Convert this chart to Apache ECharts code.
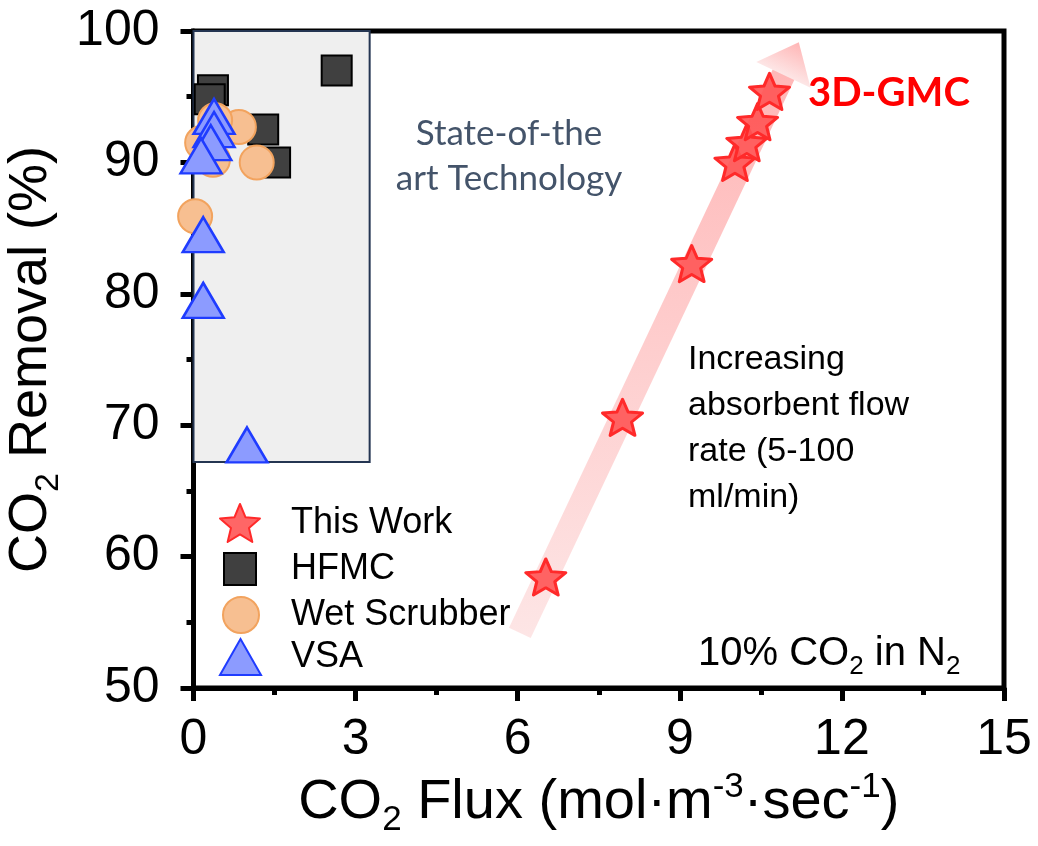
<!DOCTYPE html>
<html>
<head>
<meta charset="utf-8">
<script src="https://cdn.jsdelivr.net/npm/echarts@6/dist/echarts.min.js"></script>
<style>html,body{margin:0;padding:0;background:#fff}#c{width:1038px;height:846px}</style>
</head>
<body>
<div id="c"></div>
<script>
// ---- data ----
const thisWorkX = [6.52, 7.94, 9.22, 10.02, 10.24, 10.44, 10.66];
const thisWorkY = [58.45, 70.6, 82.3, 90.0, 91.5, 93.1, 95.4];
const hfmcX = [2.65, 0.36, 0.30, 1.29, 1.51];
const hfmcY = [97.0, 95.5, 94.8, 92.5, 90.0];
const wetX = [0.84, 1.17, 0.36, 0.40, 0.16, 0.03];
const wetY = [92.7, 90.0, 90.2, 93.2, 91.5, 85.9];
const vsaX = [0.38, 0.38, 0.32, 0.14, 0.18, 0.18, 0.99];
const vsaY = [93.5, 92.5, 91.5, 90.5, 84.5, 79.5, 68.5];
const seriesNames = ['This Work', 'HFMC', 'Wet Scrubber', 'VSA'];
const xTicks = [0, 3, 6, 9, 12, 15];
const yTicks = [50, 60, 70, 80, 90, 100];
const stateArtBox = [[0, 100], [3.26, 67.2]];
const trendArrow = [[6.04, 54.2], [11.06, 97.9]];

const pairs = (xs, ys) => xs.map((x, i) => [x, ys[i]]);

function starPath() {
  const pts = [];
  for (let i = 0; i < 10; i++) {
    const r = i % 2 ? 0.45 : 1;
    const a = -Math.PI / 2 + i * Math.PI / 5;
    pts.push(((Math.cos(a) * r) * 50 + 50).toFixed(2) + ',' + ((Math.sin(a) * r) * 50 + 50).toFixed(2));
  }
  return 'path://M' + pts.join('L') + 'Z';
}
const STAR = starPath();
const FONT = 'Liberation Sans, Arial, sans-serif';
const CAL = 'Lato, sans-serif';

const chart = echarts.init(document.getElementById('c'), null, {renderer: 'canvas'});

const legendText = pad => ({fontSize: 36, fontFamily: FONT, color: '#000', lineHeight: 40, padding: [0, 0, 0, pad]});
const legendCommon = {orient: 'vertical', padding: 0, itemGap: 0, selectedMode: false};

const tickLine = {color: '#000', width: 5};

const option = {
  animation: false,
  backgroundColor: '#fff',
  grid: {left: 193.5, right: 34, top: 31, bottom: 158, containLabel: false, outerBoundsMode: 'none',
    show: true, borderColor: '#000', borderWidth: 5, backgroundColor: 'transparent'},
  legend: [
    Object.assign({}, legendCommon, {data: [seriesNames[0]], left: 219, top: 503, itemWidth: 40, itemHeight: 38, textStyle: legendText(26)}),
    Object.assign({}, legendCommon, {data: [seriesNames[1]], left: 223, top: 549, itemWidth: 32, itemHeight: 32, textStyle: legendText(30)}),
    Object.assign({}, legendCommon, {data: [seriesNames[2]], left: 222, top: 595, itemWidth: 36, itemHeight: 36, textStyle: legendText(27)}),
    Object.assign({}, legendCommon, {data: [seriesNames[3]], left: 219, top: 637, itemWidth: 41, itemHeight: 36, textStyle: legendText(25)})
  ],
  xAxis: {
    type: 'value', min: xTicks[0], max: xTicks[xTicks.length - 1], interval: 3,
    name: 'CO{sub|2} Flux (mol·m{sup|-3}·sec{sup|-1})',
    nameLocation: 'middle', nameGap: 78,
    nameTextStyle: {
      fontSize: 56, fontFamily: FONT, color: '#000',
      rich: {
        sub: {fontSize: 35, fontFamily: FONT, color: '#000', padding: [35, 0, 0, 0]},
        sup: {fontSize: 35, fontFamily: FONT, color: '#000', padding: [0, 0, 31, 0]}
      }
    },
    axisLine: {show: true, lineStyle: {color: '#000', width: 5}},
    axisTick: {show: true, inside: false, length: 13, lineStyle: tickLine},
    minorTick: {show: true, splitNumber: 2, length: 7, lineStyle: tickLine},
    splitLine: {show: false},
    axisLabel: {fontSize: 50, fontFamily: FONT, color: '#000', margin: 27,
      formatter: v => xTicks.includes(v) ? String(v) : ''}
  },
  yAxis: {
    type: 'value', min: yTicks[0], max: yTicks[yTicks.length - 1], interval: 10,
    name: 'CO{sub|2} Removal (%)',
    nameLocation: 'middle', nameGap: 114, nameRotate: 90,
    nameTextStyle: {
      fontSize: 54, fontFamily: FONT, color: '#000',
      rich: {
        sub: {fontSize: 34, fontFamily: FONT, color: '#000', padding: [34, 0, 0, 0]}
      }
    },
    axisLine: {show: true, lineStyle: {color: '#000', width: 5}},
    axisTick: {show: true, inside: false, length: 13, lineStyle: tickLine},
    minorTick: {show: true, splitNumber: 2, length: 7, lineStyle: tickLine},
    splitLine: {show: false},
    axisLabel: {fontSize: 50, fontFamily: FONT, color: '#000', margin: 34,
      formatter: v => yTicks.includes(v) ? String(v) : ''}
  },
  series: [
    {
      name: 'box', type: 'scatter', data: [], z: 1, silent: true,
      markArea: {
        silent: true,
        itemStyle: {color: '#efefef', borderColor: '#243552', borderWidth: 2},
        data: [[{coord: stateArtBox[0]}, {coord: stateArtBox[1]}]]
      },
      markLine: {
        silent: true, animation: false,
        symbol: ['none', 'triangle'], symbolSize: [60, 36],
        label: {show: false},
        itemStyle: {color: '#ffb3b3'},
        lineStyle: {
          width: 24, type: 'solid', opacity: 1,
          color: new echarts.graphic.LinearGradient(0, 1, 0, 0, [
            {offset: 0, color: '#fde6e6'},
            {offset: 1, color: '#ffb5b5'}
          ])
        },
        emphasis: {disabled: true},
        data: [[{coord: trendArrow[0]}, {coord: trendArrow[1]}]]
      }
    },
    {
      name: seriesNames[0], type: 'scatter', z: 5,
      symbol: STAR, symbolSize: [40, 38], symbolKeepAspect: true,
      itemStyle: {color: 'rgba(255,85,85,0.9)', borderColor: '#ff2a2a', borderWidth: 3, borderJoin: 'round', opacity: 1},
      data: pairs(thisWorkX, thisWorkY)
    },
    {
      name: seriesNames[1], type: 'scatter', z: 3,
      symbol: 'rect', symbolSize: 30,
      itemStyle: {color: '#404040', borderColor: '#000', borderWidth: 2, opacity: 1},
      data: pairs(hfmcX, hfmcY)
    },
    {
      name: seriesNames[2], type: 'scatter', z: 3,
      symbol: 'circle', symbolSize: 34,
      itemStyle: {color: '#f7bf91', borderColor: '#f2a35e', borderWidth: 2, opacity: 1},
      data: pairs(wetX, wetY)
    },
    {
      name: seriesNames[3], type: 'scatter', z: 4,
      symbol: 'triangle', symbolSize: [41, 35],
      itemStyle: {color: '#8c9bff', borderColor: '#1f3cff', borderWidth: 2.5, opacity: 1},
      data: pairs(vsaX, vsaY)
    }
  ],
  graphic: [
    {type: 'text', z: 10, style: {text: 'State-of-the\nart Technology', x: 509, y: 111, textAlign: 'center', textVerticalAlign: 'top',
      fontSize: 35, fontFamily: CAL, lineHeight: 45, fill: '#44546a'}},
    {type: 'text', z: 10, style: {text: '3D-GMC', x: 808, y: 93, textAlign: 'left', textVerticalAlign: 'middle',
      fontSize: 40, fontWeight: 'bold', fontFamily: CAL, fill: '#ff0000'}},
    {type: 'text', z: 10, style: {text: 'Increasing\nabsorbent flow\nrate (5-100\nml/min)', x: 688, y: 337, textAlign: 'left', textVerticalAlign: 'top',
      fontSize: 34, fontFamily: FONT, lineHeight: 46, fill: '#000'}},
    {type: 'text', z: 10, style: {text: '10% CO{s|2} in N{s|2}', x: 698, y: 654, textAlign: 'left', textVerticalAlign: 'middle',
      fontSize: 40, fontFamily: FONT, fill: '#000',
      rich: {s: {fontSize: 26, fontFamily: FONT, fill: '#000', padding: [25, 0, 0, 0]}}}}
  ]
};
chart.setOption(option);
</script>
</body>
</html>
